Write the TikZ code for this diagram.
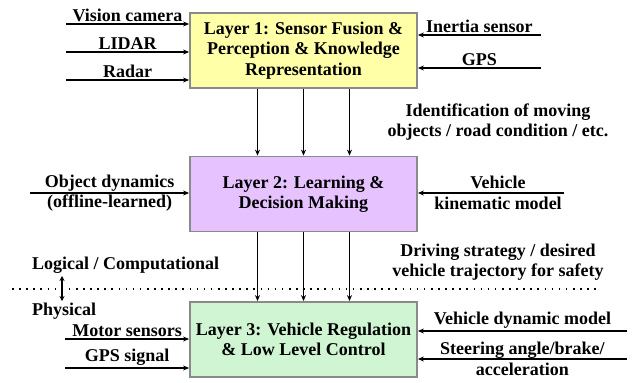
\documentclass[tikz,border=0pt]{standalone}
\usepackage{fontspec}
\setmainfont{Liberation Serif}
\newfontfamily\labelfont{Liberation Serif}
\usetikzlibrary{arrows.meta}
\definecolor{layerA}{HTML}{FFFFA8}
\definecolor{layerB}{HTML}{E6C3FF}
\definecolor{layerC}{HTML}{CFF5D2}
\definecolor{edgegray}{HTML}{8A8A8A}
\begin{document}
\begin{tikzpicture}[x=1pt,y=-1pt,
  every node/.style={font=\labelfont\bfseries\fontsize{18}{20.5}\selectfont, align=center},
  layer/.style={draw=edgegray, line width=1.8pt, minimum width=227pt, minimum height=75pt, inner sep=0pt},
  arr/.style={line width=1.5pt, -{Stealth[length=6pt,width=5pt]}},
  lab/.style={inner sep=1.5pt}]
\useasboundingbox (0,0) rectangle (633,383);

% the three layers
\node[layer, fill=layerA] (L1) at (303.5,50.5) {Layer 1: Sensor Fusion \&\\Perception \& Knowledge\\Representation};
\node[layer, fill=layerB] (L2) at (303.5,194) {Layer 2: Learning \&\\Decision Making};
\node[layer, fill=layerC] (L3) at (303.5,339.5) {Layer 3: Vehicle Regulation\\\& Low Level Control};

% flows between layers
\foreach \dx in {-46,0,46} {
  \draw[arr] ([xshift=\dx pt]L1.south) -- ([xshift=\dx pt]L2.north);
  \draw[arr] ([xshift=\dx pt]L2.south) -- ([xshift=\dx pt]L3.north);
}

% layer 1 inputs
\coordinate (vc) at (66,24);
\coordinate (li) at (66,52);
\coordinate (ra) at (66,80);
\draw[arr] (vc) -- node[lab, above] (tvc) {Vision camera} (vc -| L1.west);
\draw[arr] (li) -- node[lab, above] (tli) {LIDAR} (li -| L1.west);
\draw[arr] (ra) -- node[lab, above] (tra) {Radar} (ra -| L1.west);
\coordinate (is) at (541,35);
\coordinate (gp) at (541,68);
\draw[arr] (is) -- node[lab, above] (tis) {Inertia sensor} (is -| L1.east);
\draw[arr] (gp) -- node[lab, above] (tgp) {GPS} (gp -| L1.east);

\node (ident) at (498,122) {Identification of moving\\objects / road condition / etc.};

% layer 2 inputs
\coordinate (od) at (30,193);
\draw[arr] (od) -- node[lab] (tod) {Object dynamics\\(offline-learned)} (od -| L2.west);
\coordinate (vk) at (564,193);
\draw[arr] (vk) -- (vk -| L2.east);
\node (tvk) at (498,193) {Vehicle\\kinematic model};

\node (drive) at (498,262) {Driving strategy / desired\\vehicle trajectory for safety};

% logical / physical boundary
\coordinate (dl) at (12,289);
\coordinate (dr) at (598,289);
\draw[line width=1.6pt, dash pattern=on 1.6pt off 5.5pt] (dl) -- (dr);
\node[anchor=west, inner sep=0pt] (logic) at (32,265) {Logical / Computational};
\node[anchor=west, inner sep=0pt] (phys) at (32,311) {Physical};
\coordinate (ua) at (62,276);
\coordinate (ub) at (62,301);
\draw[line width=1.5pt, {Stealth[length=5pt,width=5pt]}-{Stealth[length=5pt,width=5pt]}] (ua) -- (ub);

% layer 3 inputs
\coordinate (ms) at (65,339);
\coordinate (gs) at (65,368);
\draw[arr] (ms) -- node[lab, above] (tms) {Motor sensors} (ms -| L3.west);
\draw[arr] (gs) -- node[lab, above] (tgs) {GPS signal} (gs -| L3.west);
\coordinate (vd) at (627,331);
\coordinate (sa) at (627,359);
\draw[arr] (vd) -- node[lab, above] (tvd) {Vehicle dynamic model} (vd -| L3.east);
\draw[arr] (sa) -- node[lab] (tsa) {Steering angle/brake/\\acceleration} (sa -| L3.east);
\end{tikzpicture}
\end{document}
